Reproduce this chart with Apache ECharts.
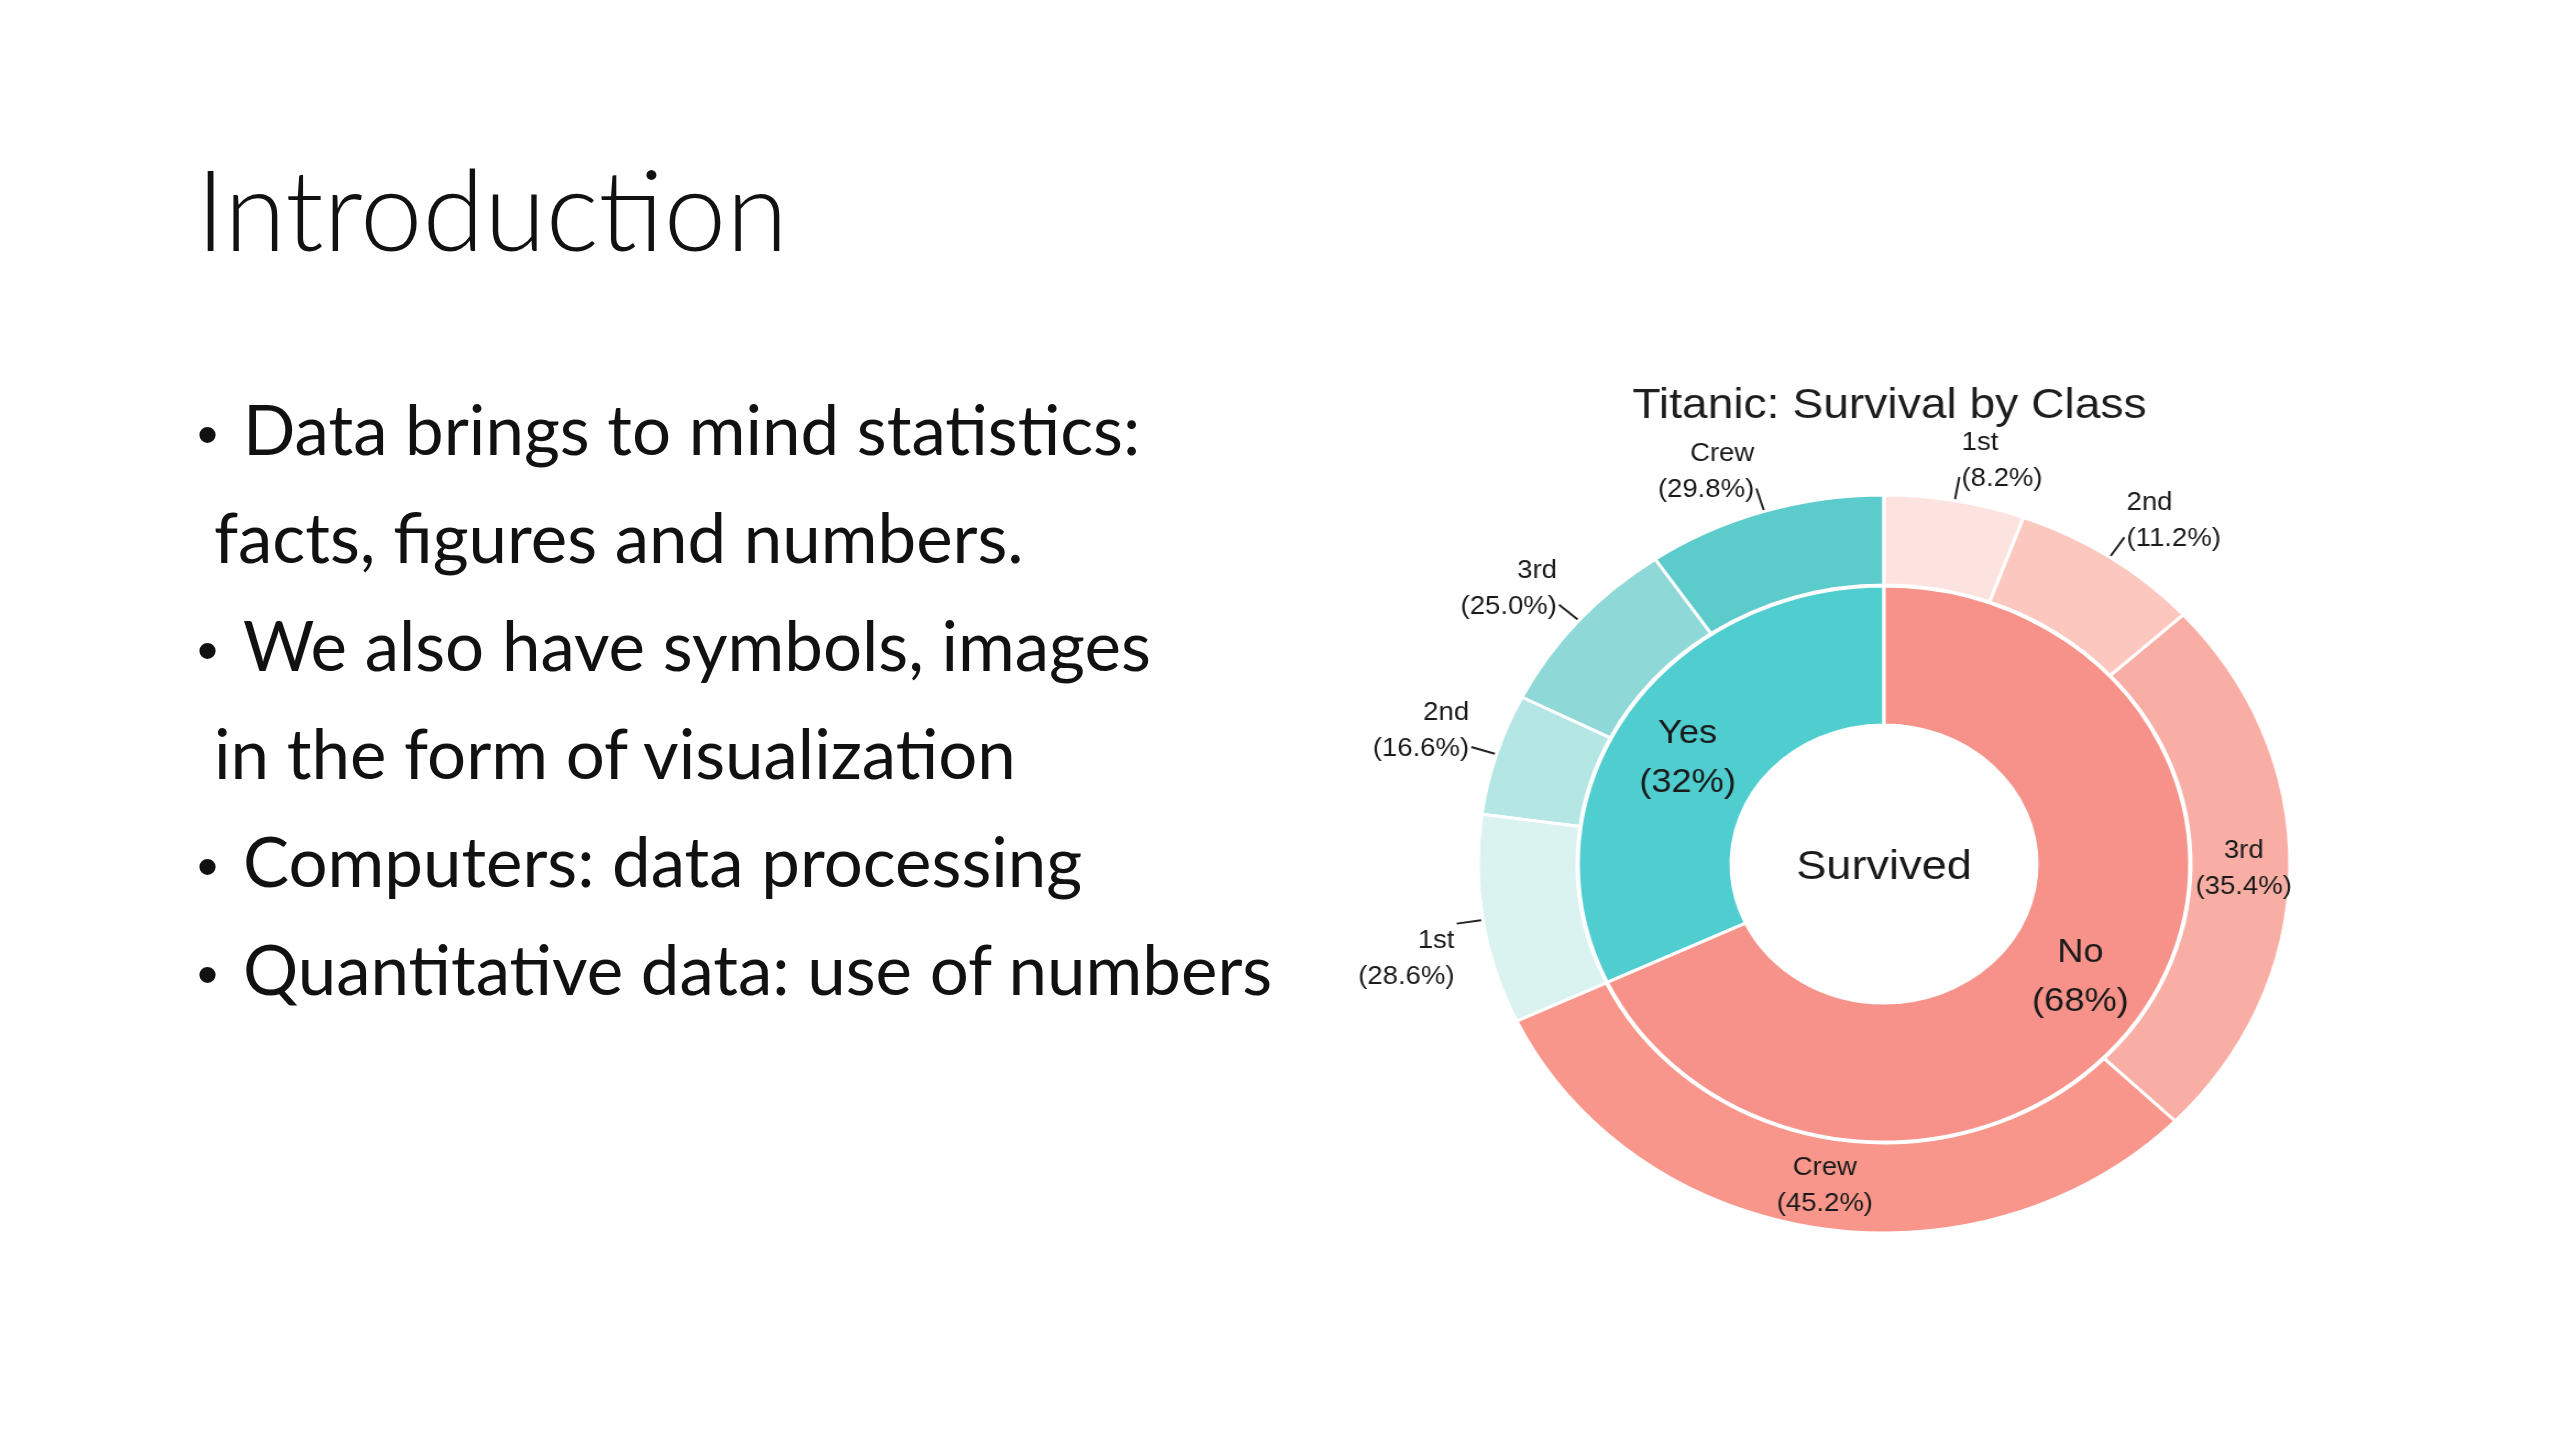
<!DOCTYPE html>
<html>
<head>
<meta charset="utf-8">
<script src="https://cdn.jsdelivr.net/npm/echarts@6/dist/echarts.min.js"></script>
<style>
  html, body { margin: 0; padding: 0; background: #fff; }
  body { width: 2560px; height: 1440px; position: relative; overflow: hidden; }
  .slide-title {
    position: absolute; left: 196px; top: 133px;
    font-family: Lato, "Noto Sans", sans-serif; font-weight: 300;
    font-size: 112px; line-height: 150px; color: #111;
  }
  .bullets {
    position: absolute; left: 197px; top: 375px;
    font-family: Lato, "Noto Sans", sans-serif; font-size: 69px;
    line-height: 108px; color: #111; white-space: pre;
  }
  .bullets div { height: 108px; }
  .bullets .dot {
    display: inline-block; width: 46px; line-height: 1;
    font-family: "Liberation Sans", Arial, sans-serif; font-size: 60px;
  }
  .bullets .cont { padding-left: 17px; }
  #chart {
    position: absolute; left: 1340px; top: 330px; width: 1100px; height: 980px;
    transform: scaleX(1.1); transform-origin: 544px 534px;
  }
</style>
</head>
<body>
<div class="slide-title">Introduction</div>
<div class="bullets"><div><span class="dot">•</span>Data brings to mind statistics:</div><div class="cont">facts, figures and numbers.</div><div><span class="dot">•</span>We also have symbols, images</div><div class="cont">in the form of visualization</div><div><span class="dot">•</span>Computers: data processing</div><div><span class="dot">•</span>Quantitative data: use of numbers</div></div>
<div id="chart"></div>
<script>
// inner ring: survived or not (share of all aboard, %)
const groups = ["Yes", "No"]
const groupShare = [32, 68]
// outer ring: class share inside each group (%)
const classes = ["Crew", "3rd", "2nd", "1st"]
const yesClassShare = [29.8, 25.0, 16.6, 28.6]
const noClassShare = [45.2, 35.4, 11.2, 8.2]

const innerColors = ["#50cdcf", "#f6928a"]
const yesColors = ["#5ccbcb", "#8ed9d8", "#b4e6e4", "#daf2f0"]
const noColors = ["#f9968b", "#f9aea5", "#fcc7bf", "#fde3df"]
// label placement: "in" = inside slice, "up" = text above leader end, "down" = text below it
const yesLabelPos = ["up", "up", "up", "down"]
const noLabelPos = ["in", "in", "up", "up"]

const cx = 544, cy = 534
const font = "'Liberation Sans', Arial, sans-serif"

var myChart = echarts.init(document.getElementById("chart"))

const innerData = groups.map((g, i) => ({
  name: g,
  value: groupShare[i],
  itemStyle: { color: innerColors[i] }
}))

function outerItem(cls, share, group, color, pos) {
  const item = {
    name: cls,
    value: group * share / 100,
    share: share,
    pos: pos,
    itemStyle: { color: color }
  }
  if (pos === "in") {
    item.label = { position: "inside", align: "center" }
    item.labelLine = { show: false }
  }
  return item
}

const outerData = []
classes.forEach((c, i) => outerData.push(outerItem(c, yesClassShare[i], groupShare[0], yesColors[i], yesLabelPos[i])))
classes.forEach((c, i) => outerData.push(outerItem(c, noClassShare[i], groupShare[1], noColors[i], noLabelPos[i])))

function outerLabel(p) {
  const txt = "{n|" + p.name + "}\n{n|(" + p.data.share.toFixed(1) + "%)}"
  if (p.data.pos === "up") return txt + "\n{up| }"
  if (p.data.pos === "down") return "{down| }\n" + txt
  return txt
}

let option = {
  animation: false,
  title: {
    text: "Titanic: Survival by Class",
    left: cx, top: 50,
    textAlign: "center",
    textStyle: { fontFamily: font, fontSize: 42, fontWeight: "normal", color: "#1e1e1e" }
  },
  graphic: [{
    type: "text",
    x: cx, y: cy + 4,
    style: {
      text: "Survived", fontFamily: font, fontSize: 41,
      fill: "#1a1a1a", align: "center", verticalAlign: "middle"
    }
  }],
  series: [
    {
      type: "pie",
      center: [cx, cy],
      radius: [139, 278],
      startAngle: 90,
      clockwise: false,
      avoidLabelOverlap: false,
      itemStyle: { borderColor: "#fff", borderWidth: 3 },
      label: {
        position: "inside",
        fontFamily: font, fontSize: 33, lineHeight: 49, color: "#1a1a1a",
        formatter: (p) => p.name + "\n(" + p.value + "%)"
      },
      labelLayout: (p) => (p.dataIndex === 0 ? { dy: 8 } : {}),
      labelLine: { show: false },
      emphasis: { disabled: true },
      data: innerData
    },
    {
      type: "pie",
      center: [cx, cy],
      radius: [279, 369],
      startAngle: 90,
      clockwise: false,
      avoidLabelOverlap: false,
      itemStyle: { borderColor: "#fff", borderWidth: 3 },
      label: {
        position: "outside",
        fontFamily: font, fontSize: 25, lineHeight: 36, color: "#1a1a1a",
        distanceToLabelLine: 2,
        formatter: outerLabel,
        rich: {
          n: { fontFamily: font, fontSize: 25, lineHeight: 36, color: "#1a1a1a" },
          up: { fontSize: 4, lineHeight: 32 },
          down: { fontSize: 4, lineHeight: 70 }
        }
      },
      labelLine: {
        show: true, length: 24, length2: 0,
        lineStyle: { color: "#222", width: 2 }
      },
      emphasis: { disabled: true },
      data: outerData
    }
  ]
}

myChart.setOption(option)

window.onresize = () => {
  myChart.resize()
}
</script>
</body>
</html>
